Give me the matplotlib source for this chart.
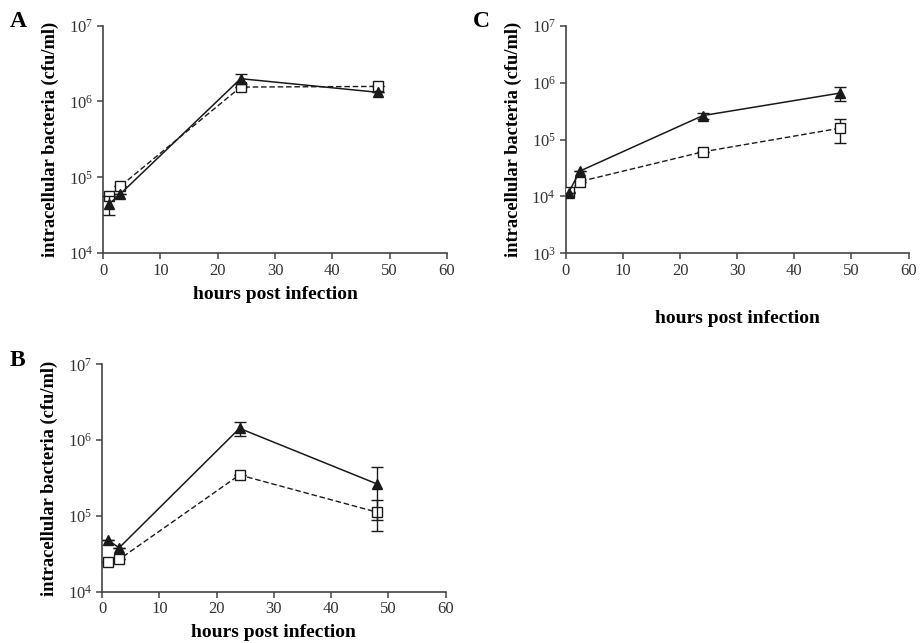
import matplotlib.pyplot as plt

plt.rcParams['font.family'] = ['Liberation Serif', 'DejaVu Serif']
plt.rcParams['mathtext.fontset'] = 'custom'
plt.rcParams['mathtext.rm'] = 'Liberation Serif'

# hours post infection
hours_a = [1, 3, 24, 48]
hours_b = [1, 3, 24, 48]
hours_c = [0.5, 2.5, 24, 48]

# A
a_tri = [4.4e4, 6.0e4, 2.0e6, 1.32e6]
a_tri_err = [1.2e4, 0, 0.3e6, 0]
a_sq = [5.6e4, 7.6e4, 1.55e6, 1.58e6]
a_sq_err = [0, 0, 0, 0]

# B
b_tri = [4.8e4, 3.8e4, 1.43e6, 2.64e5]
b_tri_err = [0, 0, 0.3e6, 1.76e5]
b_sq = [2.46e4, 2.67e4, 3.47e5, 1.12e5]
b_sq_err = [0, 0, 0, 0.48e5]

# C
c_tri = [1.17e4, 2.8e4, 2.65e5, 6.6e5]
c_tri_err = [0, 0, 0.35e5, 1.9e5]
c_sq = [1.2e4, 1.83e4, 6.1e4, 1.59e5]
c_sq_err = [0, 0, 0, 0.7e5]

xticks = [0, 10, 20, 30, 40, 50, 60]
ink = '#1a1a1a'
spine_col = '#444444'


def panel(ax, x, tri, tri_err, sq, sq_err, ymin, ymax, letter, labelpad):
    ax.errorbar(x, sq, yerr=sq_err, color=ink, lw=1.0, ls=(0, (4, 2)),
                marker='s', ms=7, mfc='white', mec=ink, mew=1.0,
                capsize=4, elinewidth=1.0, capthick=1.0, zorder=3)
    ax.errorbar(x, tri, yerr=tri_err, color=ink, lw=1.1, ls='-',
                marker='^', ms=7, mfc=ink, mec=ink,
                capsize=4, elinewidth=1.0, capthick=1.0, zorder=4)
    ax.set_yscale('log')
    ax.set_ylim(ymin, ymax)
    ax.set_xlim(0, 60)
    ax.set_xticks(xticks)
    ax.yaxis.set_minor_locator(plt.NullLocator())
    for s in ['top', 'right']:
        ax.spines[s].set_visible(False)
    for s in ['left', 'bottom']:
        ax.spines[s].set_color(spine_col)
        ax.spines[s].set_linewidth(1.2)
    ax.tick_params(axis='both', direction='out', length=4, width=1.1,
                   color=spine_col, labelsize=12, labelcolor='#333333', pad=3)
    ax.set_xlabel('hours post infection', fontsize=14, fontweight='bold',
                  labelpad=labelpad)
    ax.set_ylabel('intracellular bacteria (cfu/ml)', fontsize=13.3,
                  fontweight='bold', labelpad=7)
    ax.text(-0.27, 1.065, letter, transform=ax.transAxes, fontsize=17,
            fontweight='bold', va='top', ha='left')


fig = plt.figure(figsize=(9.24, 6.43), dpi=100)
ax_a = fig.add_axes([0.1115, 0.6065, 0.3723, 0.3535])
ax_c = fig.add_axes([0.6122, 0.6061, 0.3712, 0.3535])
ax_b = fig.add_axes([0.1104, 0.0798, 0.3720, 0.3536])

panel(ax_a, hours_a, a_tri, a_tri_err, a_sq, a_sq_err, 1e4, 1e7, 'A', 5)
panel(ax_b, hours_b, b_tri, b_tri_err, b_sq, b_sq_err, 1e4, 1e7, 'B', 5)
panel(ax_c, hours_c, c_tri, c_tri_err, c_sq, c_sq_err, 1e3, 1e7, 'C', 22)

fig.savefig('out.png', dpi=100)
